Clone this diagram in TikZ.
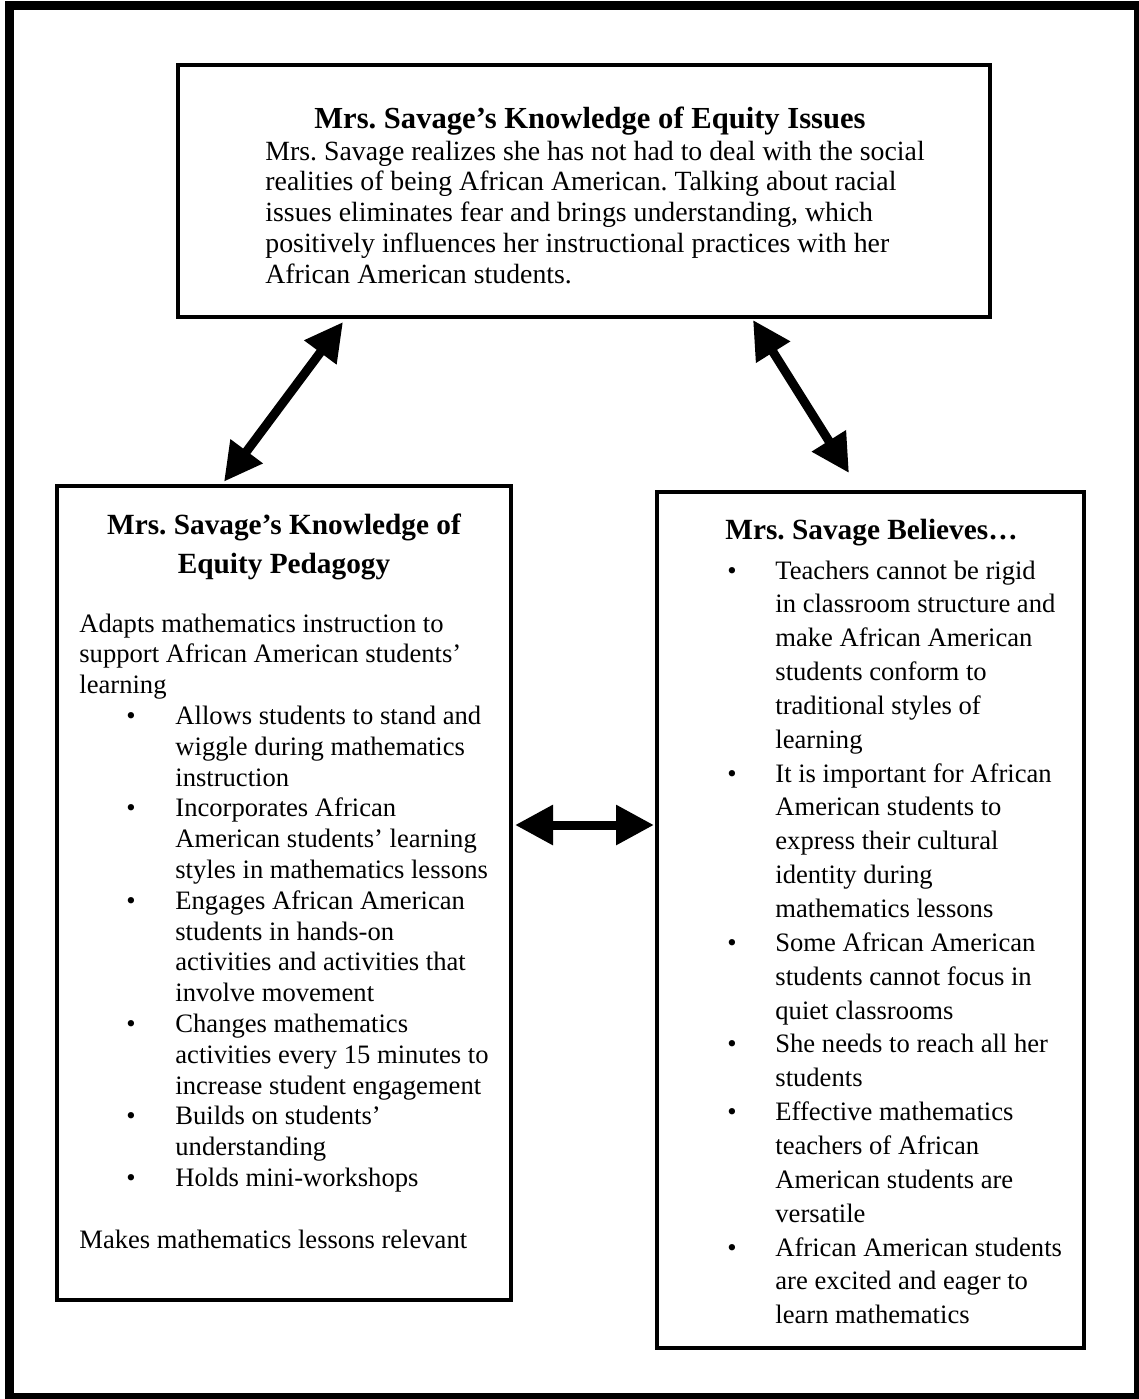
\documentclass[tikz,border=0pt]{standalone}
\usepackage{fontspec}
\setmainfont{Liberation Serif}
\usetikzlibrary{arrows.meta,calc}
\frenchspacing

\tikzset{
  frame/.style={draw=black, line width=2pt, inner sep=0pt},
  body/.style={font=\fontsize{13.3}{15.4}\selectfont, inner sep=0pt, anchor=base west},
  bigbody/.style={font=\fontsize{13.9}{15.4}\selectfont, inner sep=0pt, anchor=base west},
  heading/.style={font=\fontsize{14.65}{19.5}\selectfont\bfseries, inner sep=0pt, anchor=base},
  bigheading/.style={font=\fontsize{15.3}{19.5}\selectfont\bfseries, inner sep=0pt, anchor=base},
  dot/.style={font=\fontsize{13.3}{15.4}\selectfont, inner sep=0pt, anchor=base},
  link/.style={line width=4.5pt,
    {Triangle[length=19pt,width=19pt]}-{Triangle[length=19pt,width=19pt]}},
}

\begin{document}
\begin{tikzpicture}[x=0.5pt,y=-0.5pt]
  \useasboundingbox (0,0) rectangle (1139,1399);
  \clip (0,0) rectangle (1139,1399);

  % outer frame
  \draw[line width=4.5pt] (9.5,5.5) rectangle (1138.5,1397.5);

  % the three boxes
  \node[frame, minimum width=406pt, minimum height=126.1pt] (issues) at (583.5,190.6) {};
  \node[frame, minimum width=226.75pt, minimum height=407.15pt] (pedagogy) at (284.05,892.85) {};
  \node[frame, minimum width=213.35pt, minimum height=428pt] (beliefs) at (870.35,920) {};

  % top box text
  \node[bigheading] (issuesTitle) at (590,128) {Mrs. Savage’s Knowledge of Equity Issues};
  \foreach \k/\txt in {
    0/{Mrs. Savage realizes she has not had to deal with the social},
    1/{realities of being African American. Talking about racial},
    2/{issues eliminates fear and brings understanding, which},
    3/{positively influences her instructional practices with her},
    4/{African American students.}}
    \node[bigbody] (issuesL\k) at (265,{160+30.8*\k}) {\txt};

  % left box text
  \node[heading] (pedTitleA) at (284,534) {Mrs. Savage’s Knowledge of};
  \node[heading] (pedTitleB) at (284,573) {Equity Pedagogy};
  \foreach \k/\xx/\txt in {
    0/79/{Adapts mathematics instruction to},
    1/79/{support African American students’},
    2/79/{learning},
    3/175/{Allows students to stand and},
    4/175/{wiggle during mathematics},
    5/175/{instruction},
    6/175/{Incorporates African},
    7/175/{American students’ learning},
    8/175/{styles in mathematics lessons},
    9/175/{Engages African American},
    10/175/{students in hands-on},
    11/175/{activities and activities that},
    12/175/{involve movement},
    13/175/{Changes mathematics},
    14/175/{activities every 15 minutes to},
    15/175/{increase student engagement},
    16/175/{Builds on students’},
    17/175/{understanding},
    18/175/{Holds mini-workshops},
    20/79/{Makes mathematics lessons relevant}}
    \node[body] (pedL\k) at (\xx,{632+30.8*\k}) {\txt};
  \foreach \k in {3,6,9,13,16,18}
    \node[dot] (pedB\k) at (131,{632+30.8*\k}) {•};

  % right box text
  \node[heading, anchor=base west] (belTitle) at (725,539) {Mrs. Savage Believes…};
  \foreach \k/\txt in {
    0/{Teachers cannot be rigid},
    1/{in classroom structure and},
    2/{make African American},
    3/{students conform to},
    4/{traditional styles of},
    5/{learning},
    6/{It is important for African},
    7/{American students to},
    8/{express their cultural},
    9/{identity during},
    10/{mathematics lessons},
    11/{Some African American},
    12/{students cannot focus in},
    13/{quiet classrooms},
    14/{She needs to reach all her},
    15/{students},
    16/{Effective mathematics},
    17/{teachers of African},
    18/{American students are},
    19/{versatile},
    20/{African American students},
    21/{are excited and eager to},
    22/{learn mathematics}}
    \node[body] (belL\k) at (775,{579+33.85*\k}) {\txt};
  \foreach \k in {0,6,11,14,16,20}
    \node[dot] (belB\k) at (732,{579+33.85*\k}) {•};

  % connectors
  \coordinate (belTip) at (849,473);
  \draw[link] ($(pedagogy.north west)+(168.7,-2)$) -- ($(issues.south west)+(167.5,3.3)$);
  \draw[link] ($(issues.south west)+(577.5,1.3)$) -- (belTip);
  \draw[link] ($(pedagogy.north east)+(2.2,341.3)$) -- ($(beliefs.north west)+(-1,335)$);
\end{tikzpicture}
\end{document}
